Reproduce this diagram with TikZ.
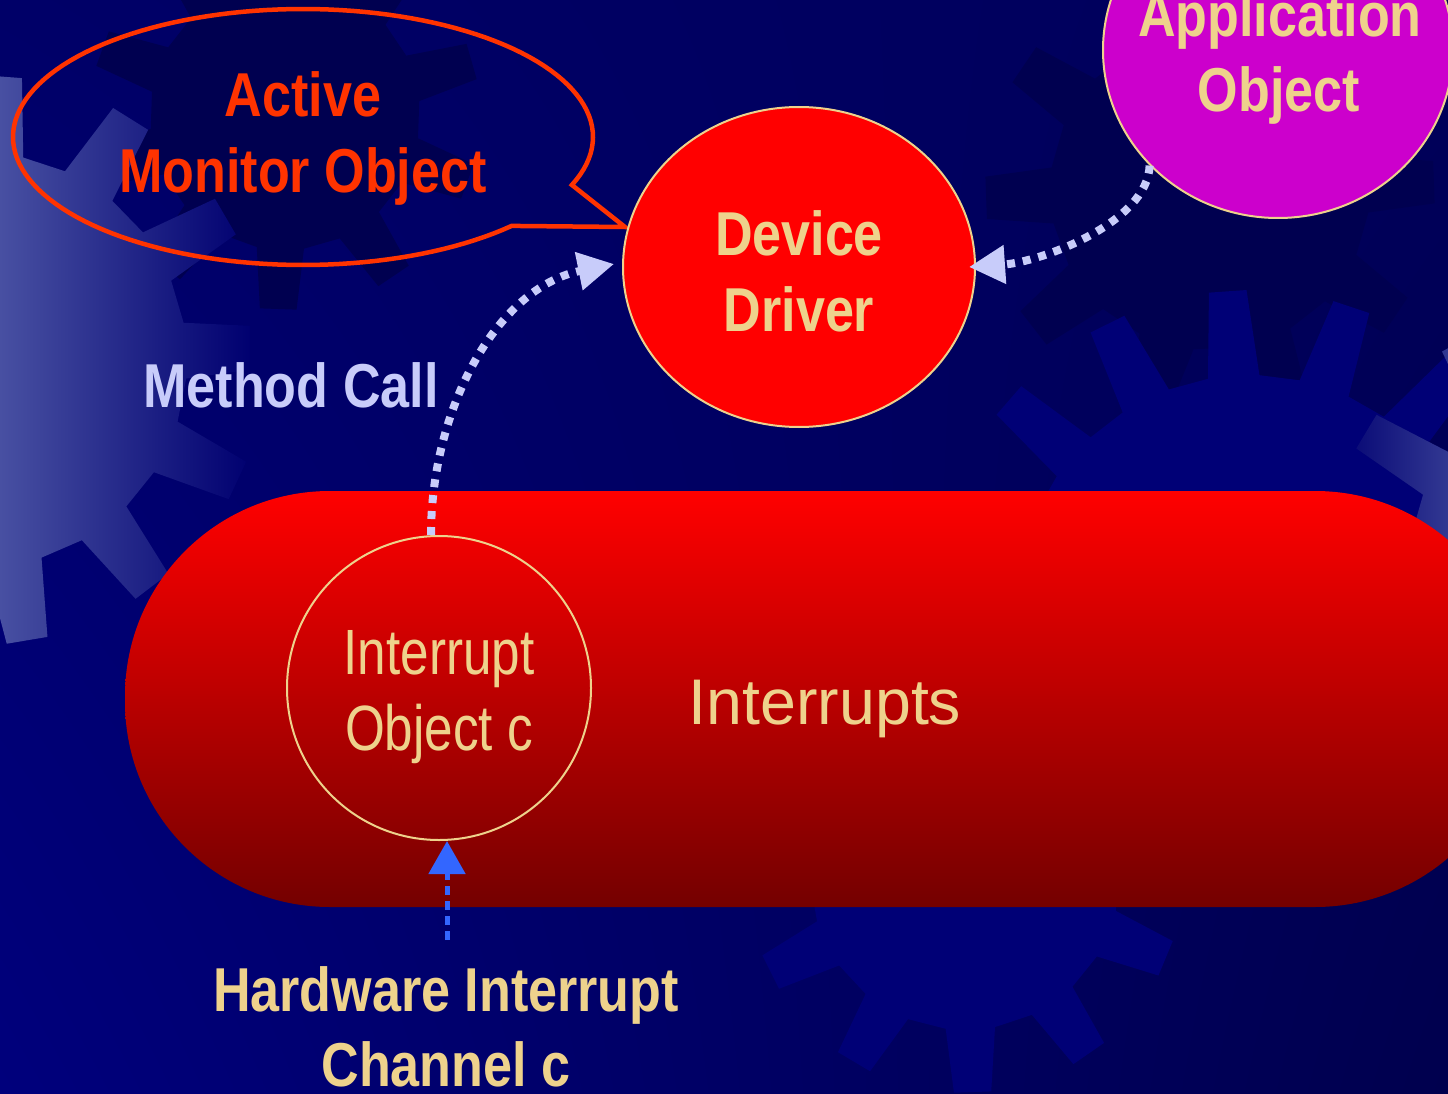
\documentclass[tikz,border=0pt]{standalone}
\usepackage{fontspec}
\setmainfont{Liberation Sans}
\newfontfamily\condbold[FakeStretch=0.84]{Liberation Sans}
\newfontfamily\condreg[FakeStretch=0.80]{Liberation Sans}
\usetikzlibrary{arrows.meta,shapes.geometric,shadings}

% palette
\definecolor{bgUL}{RGB}{0,0,104}
\definecolor{bgUR}{RGB}{0,0,90}
\definecolor{bgLL}{RGB}{0,0,124}
\definecolor{bgLR}{RGB}{0,0,78}
\definecolor{cogDark}{RGB}{0,0,80}
\definecolor{cogMid}{RGB}{0,0,118}
\definecolor{cogLight}{RGB}{72,80,162}
\definecolor{cogEdge}{RGB}{50,56,146}
\definecolor{cogFade}{RGB}{0,0,112}
\definecolor{calloutRed}{RGB}{255,51,0}
\definecolor{labelTan}{RGB}{238,210,140}
\definecolor{callBlue}{RGB}{200,204,250}
\definecolor{hwBlue}{RGB}{51,102,255}
\definecolor{appMagenta}{RGB}{204,0,204}
\definecolor{irqTop}{RGB}{255,0,0}
\definecolor{irqMid}{RGB}{196,0,0}
\definecolor{irqBot}{RGB}{116,0,0}

% cog outline: centre x, centre y, teeth, root radius, tip radius, phase
\newcommand{\cogpath}[6]{%
  ({#1+#4*cos(#6-0.28*360/#3)},{#2+#4*sin(#6-0.28*360/#3)})
  \foreach \k [evaluate=\k as \ca using {#6+(\k-1)*360/#3},
               evaluate=\k as \cs using {360/#3}] in {1,...,#3}{
    -- ({#1+#4*cos(\ca-0.28*\cs)},{#2+#4*sin(\ca-0.28*\cs)})
    -- ({#1+#5*cos(\ca-0.15*\cs)},{#2+#5*sin(\ca-0.15*\cs)})
    -- ({#1+#5*cos(\ca+0.15*\cs)},{#2+#5*sin(\ca+0.15*\cs)})
    -- ({#1+#4*cos(\ca+0.28*\cs)},{#2+#4*sin(\ca+0.28*\cs)})
  } -- cycle}

\tikzset{
  oval/.style={ellipse, draw=labelTan, line width=2pt, inner sep=0pt},
  boldlbl/.style={font=\condbold\bfseries\fontsize{62}{75}\selectfont, inner sep=0pt, anchor=base},
  reglbl/.style={font=\condreg\fontsize{64}{75}\selectfont, inner sep=0pt, anchor=base, text=labelTan},
  calllink/.style={draw=callBlue, line width=8pt, dash pattern=on 8pt off 8pt,
    -{Triangle[length=36pt,width=37pt,fill=callBlue]}},
  hwlink/.style={draw=hwBlue, line width=5pt, dash pattern=on 9pt off 6pt,
    -{Triangle[length=33pt,width=36pt,fill=hwBlue]}},
}

\begin{document}
\begin{tikzpicture}[x=1pt,y=-1pt]
\useasboundingbox (0,0) rectangle (1448,1094);

% backdrop with cogs
\begin{scope}
  \clip (0,0) rectangle (1448,1094);
  \shade[upper left=bgUL, upper right=bgUR, lower left=bgLL, lower right=bgLR]
    (0,0) rectangle (1448,1094);
  \fill[cogDark] \cogpath{285}{115}{10}{135}{195}{20};
  \fill[cogDark] \cogpath{1210}{190}{10}{160}{225}{70};
  \begin{scope}
    \clip (880,0) rectangle (1448,540);
    \fill[cogMid] \cogpath{1250}{610}{16}{235}{320}{-94};
  \end{scope}
  \fill[cogMid] \cogpath{965}{875}{11}{155}{218}{88};
  \begin{scope}
    \clip \cogpath{-20}{360}{13}{207}{285}{-58};
    \shade[left color=cogLight, right color=cogFade] (0,40) rectangle (250,680);
  \end{scope}
  \begin{scope}
    \clip \cogpath{1580}{560}{12}{170}{250}{-149};
    \shade[left color=cogFade, right color=cogEdge] (1330,300) rectangle (1448,800);
  \end{scope}
\end{scope}

% interrupt band
\node[rounded corners=205pt, top color=irqTop, middle color=irqMid, bottom color=irqBot,
      minimum width=1395pt, minimum height=416pt, inner sep=0pt] (irq) at (822.5,699) {};

% speech bubble of the active monitor object
\draw[calloutRed, line width=4.5pt]
  plot[domain=44:382, samples=140, variable=\t] ({303+290*cos(\t)},{137+128*sin(\t)})
  -- (625,227) -- cycle;

% objects
\node[oval, fill=red, minimum width=352pt, minimum height=320pt] (dev) at (799,267) {};
\node[oval, fill=appMagenta, minimum width=350pt, minimum height=336pt] (app) at (1278,50) {};
\node[oval, minimum width=304pt, minimum height=304pt] (intobj) at (439,688) {};

% connectors
\draw[calllink] ([xshift=-8pt]intobj.north) .. controls +(0,-125) and +(-118,24) .. ([xshift=-8pt,yshift=3pt]dev.west);
\draw[calllink] (app.-138) .. controls +(-2,57) and +(72,-5) .. ([xshift=-7pt]dev.east);
\coordinate (hwtail) at (447,940);
\draw[hwlink] (hwtail) -- (hwtail |- intobj.south);

% labels
\node[boldlbl, text=calloutRed] (tActive) at (303,117) {Active};
\node[boldlbl, text=calloutRed] (tMonitor) at (303,193) {Monitor Object};
\node[boldlbl, text=labelTan] (tDevice) at (799,255) {Device};
\node[boldlbl, text=labelTan] (tDriver) at (799,331) {Driver};
\node[boldlbl, text=labelTan] (tApp) at (1280,37) {Application};
\node[boldlbl, text=labelTan] (tAppObj) at (1279,112) {Object};
\node[boldlbl, text=callBlue] (tCall) at (291,407) {Method Call};
\node[reglbl] (tIrq) at (439,674) {Interrupt};
\node[reglbl] (tIrqObj) at (439,750) {Object c};
\node[inner sep=0pt, anchor=base, text=labelTan, font=\fontsize{64.5}{75}\selectfont] (tBand) at (825,724) {Interrupts};
\node[boldlbl, text=labelTan] (tHw) at (446,1011) {Hardware Interrupt};
\node[boldlbl, text=labelTan] (tChan) at (446,1086) {Channel c};
\end{tikzpicture}
\end{document}
